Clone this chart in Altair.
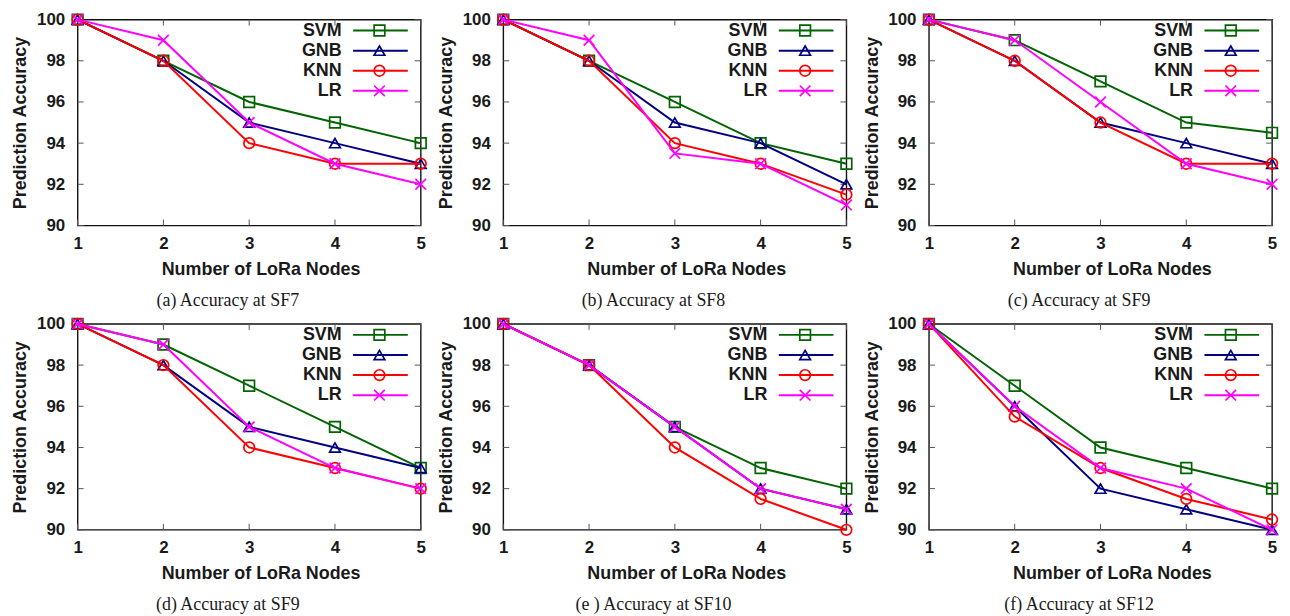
import altair as alt
import pandas as pd

# ---- data ----
nodes = [1, 2, 3, 4, 5]
series_names = ["SVM", "GNB", "KNN", "LR"]
series_colors = ["#006400", "#000080", "#ff0000", "#ff00ff"]
series_shapes = ["square", "triangle-up", "circle", "M-1,-1L1,1M-1,1L1,-1"]

captions = [
    "(a) Accuracy at SF7",
    "(b) Accuracy at SF8",
    "(c) Accuracy at SF9",
    "(d) Accuracy at SF9",
    "(e ) Accuracy at SF10",
    "(f) Accuracy at SF12",
]

a_svm = [100, 98, 96, 95, 94]
a_gnb = [100, 98, 95, 94, 93]
a_knn = [100, 98, 94, 93, 93]
a_lr = [100, 99, 95, 93, 92]

b_svm = [100, 98, 96, 94, 93]
b_gnb = [100, 98, 95, 94, 92]
b_knn = [100, 98, 94, 93, 91.5]
b_lr = [100, 99, 93.5, 93, 91]

c_svm = [100, 99, 97, 95, 94.5]
c_gnb = [100, 98, 95, 94, 93]
c_knn = [100, 98, 95, 93, 93]
c_lr = [100, 99, 96, 93, 92]

d_svm = [100, 99, 97, 95, 93]
d_gnb = [100, 98, 95, 94, 93]
d_knn = [100, 98, 94, 93, 92]
d_lr = [100, 99, 95, 93, 92]

e_svm = [100, 98, 95, 93, 92]
e_gnb = [100, 98, 95, 92, 91]
e_knn = [100, 98, 94, 91.5, 90]
e_lr = [100, 98, 95, 92, 91]

f_svm = [100, 97, 94, 93, 92]
f_gnb = [100, 96, 92, 91, 90]
f_knn = [100, 95.5, 93, 91.5, 90.5]
f_lr = [100, 96, 93, 92, 90]

panels = [
    [a_svm, a_gnb, a_knn, a_lr],
    [b_svm, b_gnb, b_knn, b_lr],
    [c_svm, c_gnb, c_knn, c_lr],
    [d_svm, d_gnb, d_knn, d_lr],
    [e_svm, e_gnb, e_knn, e_lr],
    [f_svm, f_gnb, f_knn, f_lr],
]

x_ticks = [1, 2, 3, 4, 5]
y_ticks = [90, 92, 94, 96, 98, 100]

# ---- style ----
W, H = 345, 207
SANS = "Liberation Sans"
SERIF = "Liberation Serif"
TXT = "#1a1a1a"

color_scale = alt.Scale(domain=series_names, range=series_colors)
shape_scale = alt.Scale(domain=series_names, range=series_shapes)
x_scale = alt.Scale(domain=[1, 5], nice=False, zero=False)
y_scale = alt.Scale(domain=[90, 100], nice=False, zero=False)

x_axis = alt.Axis(
    values=x_ticks, format="d", grid=False, domain=False, ticks=False, tickSize=0,
    labelFont=SANS, labelFontSize=17, labelFontWeight="bold", labelColor=TXT,
    labelPadding=10, labelFlush=False,
    title="Number of LoRa Nodes", titleFont=SANS, titleFontSize=18,
    titleFontWeight="bold", titleColor=TXT, titleX=184, titleY=44,
    titleAlign="center", titleBaseline="middle",
)
y_axis = alt.Axis(
    values=y_ticks, format="d", grid=False, domain=False, ticks=False, tickSize=0,
    labelFont=SANS, labelFontSize=17, labelFontWeight="bold", labelColor=TXT,
    labelPadding=13, labelFlush=False,
    title="Prediction Accuracy", titleFont=SANS, titleFontSize=18,
    titleFontWeight="bold", titleColor=TXT, titleX=-57, titleY=H / 2,
    titleAngle=270, titleAlign="center", titleBaseline="middle",
)

legend_rows = [11, 31.2, 51.4, 71.6]


def make_panel(values, caption):
    layers = []
    # inward ticks (gnuplot style), on all four sides
    yt = pd.DataFrame({"v": y_ticks})
    xt = pd.DataFrame({"v": x_ticks})
    tick_col = "#555555"
    layers.append(alt.Chart(yt).mark_rule(color=tick_col, strokeWidth=1).encode(
        y=alt.Y("v:Q", scale=y_scale, axis=y_axis), x=alt.value(0), x2=alt.value(6)))
    layers.append(alt.Chart(yt).mark_rule(color=tick_col, strokeWidth=1).encode(
        y=alt.Y("v:Q", scale=y_scale), x=alt.value(W - 6), x2=alt.value(W)))
    layers.append(alt.Chart(xt).mark_rule(color=tick_col, strokeWidth=1).encode(
        x=alt.X("v:Q", scale=x_scale, axis=x_axis), y=alt.value(H), y2=alt.value(H - 6)))
    layers.append(alt.Chart(xt).mark_rule(color=tick_col, strokeWidth=1).encode(
        x=alt.X("v:Q", scale=x_scale), y=alt.value(0), y2=alt.value(6)))

    for name, vals in zip(series_names, values):
        df = pd.DataFrame({"nodes": nodes, "acc": vals, "series": name})
        base = alt.Chart(df).encode(
            x=alt.X("nodes:Q", scale=x_scale, axis=x_axis),
            y=alt.Y("acc:Q", scale=y_scale, axis=y_axis),
            color=alt.Color("series:N", scale=color_scale, legend=None),
        )
        layers.append(base.mark_line(strokeWidth=2))
        layers.append(base.mark_point(filled=False, size=115, strokeWidth=1.7, opacity=1).encode(
            shape=alt.Shape("series:N", scale=shape_scale, legend=None)))

    # legend inside top-right, gnuplot style (label, then line with marker)
    for name, ry in zip(series_names, legend_rows):
        ld = pd.DataFrame({"series": [name]})
        lb = alt.Chart(ld)
        layers.append(lb.mark_text(align="right", baseline="middle", font=SANS,
                                   fontSize=18, fontWeight="bold", color=TXT).encode(
            text="series:N", x=alt.value(265.5), y=alt.value(ry)))
        layers.append(lb.mark_rule(strokeWidth=2).encode(
            color=alt.Color("series:N", scale=color_scale, legend=None),
            x=alt.value(277), x2=alt.value(332), y=alt.value(ry)))
        layers.append(lb.mark_point(filled=False, size=115, strokeWidth=1.7, opacity=1).encode(
            color=alt.Color("series:N", scale=color_scale, legend=None),
            shape=alt.Shape("series:N", scale=shape_scale, legend=None),
            x=alt.value(303.5), y=alt.value(ry)))

    cap = pd.DataFrame({"t": [caption]})
    layers.append(alt.Chart(cap).mark_text(align="center", baseline="middle", font=SERIF,
                                           fontSize=18, color=TXT).encode(
        text="t:N", x=alt.value(151), y=alt.value(H + 76)))

    return alt.layer(*layers).properties(width=W, height=H)


charts = [make_panel(v, c) for v, c in zip(panels, captions)]

chart = alt.concat(
    *charts, columns=3, spacing={"row": 99, "column": 83}, bounds="flush"
).properties(
    padding={"left": 3, "top": 0, "right": 0, "bottom": 0}
).configure(
    background="white",
    view=alt.ViewConfig(stroke="#111111", strokeWidth=1.4),
)

chart.save("out.html", embed_options={"renderer": "svg", "actions": False})
